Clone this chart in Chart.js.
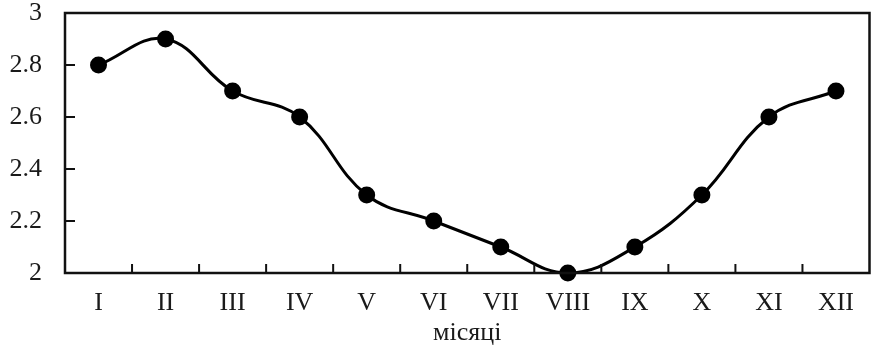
<!DOCTYPE html>
<html>
<head>
<meta charset="utf-8">
<script src="https://cdn.jsdelivr.net/npm/chart.js@4"></script>
<style>
  html, body { margin: 0; padding: 0; background: #fff; }
  #wrap { width: 878px; height: 345px; }
</style>
</head>
<body>
<div id="wrap"><canvas id="chart"></canvas></div>
<script>
const months = ['I', 'II', 'III', 'IV', 'V', 'VI', 'VII', 'VIII', 'IX', 'X', 'XI', 'XII'];
const values = [2.8, 2.9, 2.7, 2.6, 2.3, 2.2, 2.1, 2.0, 2.1, 2.3, 2.6, 2.7];
const yTicks = [2, 2.2, 2.4, 2.6, 2.8, 3];
const xTitle = 'місяці';

const FONT = "'Liberation Serif', 'Times New Roman', serif";

// frame + inward tick marks, positions taken from the scales
const framePlugin = {
  id: 'frame',
  afterDraw(chart) {
    const { ctx, chartArea: a, scales } = chart;
    ctx.save();
    ctx.strokeStyle = '#111';
    ctx.lineWidth = 2.5;
    ctx.strokeRect(a.left, a.top, a.right - a.left, a.bottom - a.top);
    ctx.lineWidth = 2;
    ctx.beginPath();
    yTicks.forEach(v => {
      const y = scales.y.getPixelForValue(v);
      if (v === 2 || v === 3) return;
      ctx.moveTo(a.left, y);
      ctx.lineTo(a.left + 10, y);
    });
    for (let i = 1; i < months.length; i++) {
      const x = (scales.x.getPixelForValue(i - 1) + scales.x.getPixelForValue(i)) / 2;
      ctx.moveTo(x, a.bottom);
      ctx.lineTo(x, a.bottom - 9);
    }
    ctx.stroke();
    ctx.restore();
  }
};

new Chart(document.getElementById('chart'), {
  type: 'line',
  data: {
    labels: months,
    datasets: [{
      data: values,
      borderColor: '#000',
      backgroundColor: '#000',
      borderWidth: 3,
      pointRadius: 8.5,
      pointBackgroundColor: '#000',
      pointBorderWidth: 0,
      tension: 0.4,
      clip: false
    }]
  },
  options: {
    responsive: true,
    maintainAspectRatio: false,
    animation: false,
    layout: { padding: { top: 13, right: 1, left: 0, bottom: 0 } },
    plugins: { legend: { display: false }, tooltip: { enabled: false } },
    scales: {
      x: {
        offset: true,
        grid: { display: false, drawTicks: false },
        border: { display: false },
        ticks: { color: '#1a1a1a', font: { family: FONT, size: 26 }, padding: 15, maxRotation: 0 },
        title: { display: true, text: xTitle, color: '#1a1a1a', font: { family: FONT, size: 26 }, padding: { top: 0, bottom: -4 } },
        afterFit: s => { s.height = 72; s.paddingLeft = 0; s.paddingRight = 0; }
      },
      y: {
        min: 2,
        max: 3,
        afterBuildTicks: s => { s.ticks = yTicks.map(v => ({ value: v })); },
        grid: { display: false, drawTicks: false },
        border: { display: false },
        ticks: {
          color: '#1a1a1a',
          font: { family: FONT, size: 26 },
          padding: 23,
          callback: v => String(v)
        },
        afterFit: s => { s.width = 65; s.paddingTop = 0; s.paddingBottom = 0; }
      }
    }
  },
  plugins: [framePlugin]
});
</script>
</body>
</html>
